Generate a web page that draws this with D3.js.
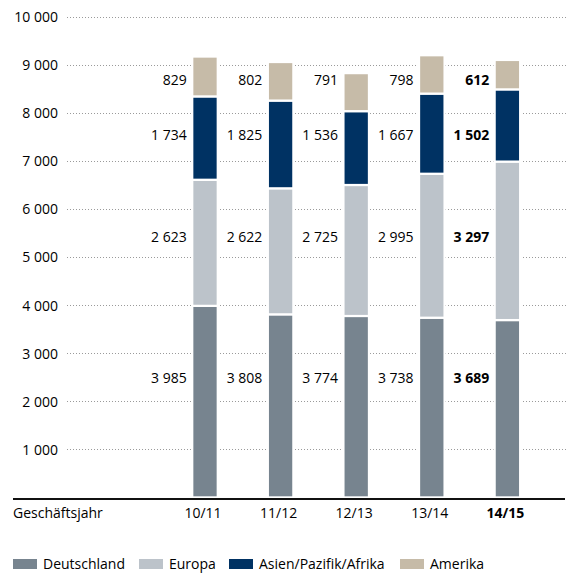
<!DOCTYPE html>
<html>
<head>
<meta charset="utf-8">
<script src="https://cdn.jsdelivr.net/npm/d3@7"></script>
<style>
  body { margin: 0; background: #fff; }
  text { font-family: "Open Sans", sans-serif; font-size: 14px; fill: #000; }
</style>
</head>
<body>
<div id="chart"></div>
<script>
// Umsatz nach Regionen, Geschäftsjahre 10/11 bis 14/15
var years = ["10/11", "11/12", "12/13", "13/14", "14/15"];
var regions = ["Deutschland", "Europa", "Asien/Pazifik/Afrika", "Amerika"];
var deutschland = [3985, 3808, 3774, 3738, 3689];
var europa = [2623, 2622, 2725, 2995, 3297];
var asien = [1734, 1825, 1536, 1667, 1502];
var amerika = [829, 802, 791, 798, 612];
var yTicks = [1000, 2000, 3000, 4000, 5000, 6000, 7000, 8000, 9000, 10000];
var currentYear = "14/15";

var colors = ["#77848f", "#bcc3ca", "#003263", "#c6bba8"];

var width = 573, height = 577;

var svg = d3.select("#chart")
    .append("svg")
    .attr("width", width)
    .attr("height", height);

var y = d3.scaleLinear()
    .domain([0, 10000])
    .range([497.4, 16.7]);

var x = d3.scalePoint()
    .domain(years)
    .range([167.2, 545.2])
    .padding(0.5);

var barW = 25.5;

var loc = d3.formatLocale({decimal: ",", thousands: " ", grouping: [3], currency: ["", " €"]});
var fmt = loc.format(",d");

// gridlines (dotted)
svg.append("g")
    .selectAll("line")
    .data(yTicks)
    .enter()
    .append("line")
    .attr("x1", 67)
    .attr("x2", 567)
    .attr("y1", function (d) { return Math.round(y(d)) + 0.5; })
    .attr("y2", function (d) { return Math.round(y(d)) + 0.5; })
    .attr("stroke", "#9a9a9a")
    .attr("stroke-width", 1)
    .attr("stroke-dasharray", "1,2");

// y tick labels
var yAxis = d3.axisLeft(y).tickValues(yTicks).tickFormat(fmt).tickSize(0).tickPadding(0);
var yAxisGroup = svg.append("g")
    .attr("transform", "translate(58,0)")
    .call(yAxis);
yAxisGroup.select(".domain").remove();
yAxisGroup.selectAll("text")
    .attr("font-family", null)
    .attr("font-size", null)
    .attr("fill", null)
    .attr("dy", "0.35em");

// stacked bars
var table = years.map(function (yr, i) {
    return {year: yr, Deutschland: deutschland[i], Europa: europa[i],
        "Asien/Pazifik/Afrika": asien[i], Amerika: amerika[i]};
});
var series = d3.stack().keys(regions)(table);

svg.append("g")
    .selectAll("g")
    .data(series)
    .enter()
    .append("g")
    .attr("fill", function (d, i) { return colors[i]; })
    .selectAll("rect")
    .data(function (d) { return d; })
    .enter()
    .append("rect")
    .attr("x", function (d) { return x(d.data.year) - barW / 2; })
    .attr("y", function (d) { return y(d[1]); })
    .attr("width", barW)
    .attr("height", function (d) { return y(d[0]) - y(d[1]); })
    .attr("stroke", "#fff")
    .attr("stroke-width", 2.2);

// value labels sit on fixed rows (in data units), left of each bar
var labelRows = [2484, 5423, 7539, 8683];
series.forEach(function (s, k) {
    svg.append("g")
        .selectAll("text")
        .data(s)
        .enter()
        .append("text")
        .attr("x", function (d) { return x(d.data.year) - barW / 2 - 5.5; })
        .attr("y", y(labelRows[k]))
        .attr("dy", "0.35em")
        .attr("text-anchor", "end")
        .attr("font-weight", function (d) { return d.data.year === currentYear ? "bold" : null; })
        .text(function (d) { return fmt(d[1] - d[0]); });
});

// baseline
svg.append("line")
    .attr("x1", 13)
    .attr("x2", 565)
    .attr("y1", 499)
    .attr("y2", 499)
    .attr("stroke", "#111")
    .attr("stroke-width", 2.2);

// x labels
var xAxisGroup = svg.append("g")
    .attr("transform", "translate(-2,513)");
xAxisGroup.append("text")
    .attr("x", 15)
    .attr("dy", "0.35em")
    .text("Geschäftsjahr");
xAxisGroup.selectAll(".yr")
    .data(years)
    .enter()
    .append("text")
    .attr("class", "yr")
    .attr("x", function (d) { return x(d); })
    .attr("dy", "0.35em")
    .attr("text-anchor", "middle")
    .attr("font-weight", function (d) { return d === currentYear ? "bold" : null; })
    .text(function (d) { return d; });

// legend (item offsets)
var legendX = [0, 126, 216, 387];
var legend = svg.append("g")
    .attr("transform", "translate(13,564)");
var items = legend.selectAll("g")
    .data(regions)
    .enter()
    .append("g")
    .attr("transform", function (d, i) { return "translate(" + legendX[i] + ",0)"; });
items.append("rect")
    .attr("x", 0)
    .attr("y", -5)
    .attr("width", 24)
    .attr("height", 10)
    .attr("fill", function (d, i) { return colors[i]; });
items.append("text")
    .attr("x", 30)
    .attr("dy", "0.35em")
    .text(function (d) { return d; });
</script>
</body>
</html>
